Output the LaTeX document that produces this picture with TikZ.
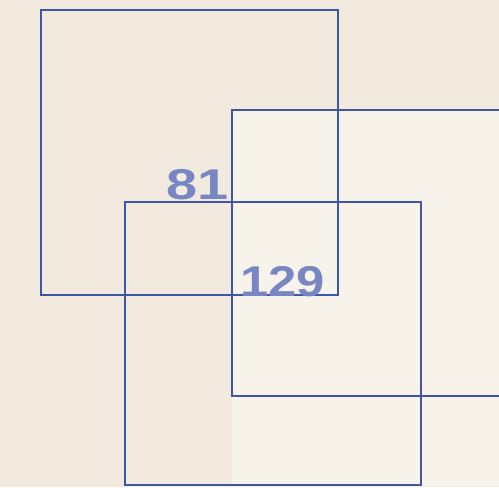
\documentclass[tikz,border=0pt]{standalone}
\usepackage{fontspec}
\setmainfont{Liberation Sans}
\usepackage{tikz}
\usetikzlibrary{positioning,calc}
\definecolor{PaperBeige}{RGB}{242,234,222}
\definecolor{PaperLight}{RGB}{247,243,235}
\definecolor{FrameBlue}{RGB}{62,86,166}
\definecolor{NumBlue}{RGB}{120,135,195}
\tikzset{
  frame/.style={draw=FrameBlue,line width=1.2pt},
  num/.style={text=NumBlue,font=\fontsize{24.5}{24.5}\selectfont\bfseries,inner sep=0pt,xscale=1.18},
}

\begin{document}
\begin{tikzpicture}[x=0.02cm,y=-0.02cm]
\useasboundingbox (0,0) rectangle (499,487);
\fill[PaperBeige] (0,0) rectangle (499,487);
\fill[PaperLight] (232,110) rectangle (499,487);
\coordinate (a0) at (41,10);
\coordinate (a1) at (338,295);
\coordinate (b0) at (232,110);
\coordinate (b1) at (505,396);
\coordinate (c0) at (125,202);
\coordinate (c1) at (421,485);
\draw[frame] (a0) rectangle (a1);
\draw[frame] (b0) rectangle (b1);
\draw[frame] (c0) rectangle (c1);
\node[num,xscale=1.1,anchor=base east] (n81) at (229,199) {81};
\node[num,anchor=base west] (n129) at (240,296) {129};
\end{tikzpicture}
\end{document}
